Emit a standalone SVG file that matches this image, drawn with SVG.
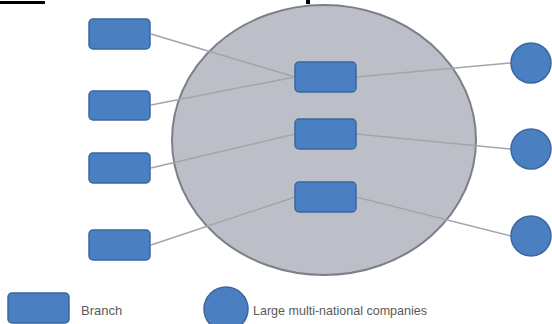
<svg xmlns="http://www.w3.org/2000/svg" width="552" height="324" viewBox="0 0 552 324">
<style>
.br{fill:#4a7fc1;stroke:#3b679e;stroke-width:1.5}
.co{fill:#4a7fc1;stroke:#3b679e;stroke-width:1.5}
.ln{stroke:#a3a5ad;stroke-width:1.5;fill:none}
.lbl{font-family:"Liberation Sans",Arial,sans-serif;font-size:13px;fill:#5a5a5a}
</style>
<rect width="552" height="324" fill="#ffffff"/>
<rect x="0" y="1" width="45" height="3" fill="#000"/>
<rect x="306" y="0" width="4" height="4" fill="#000"/>
<g id="market">
<ellipse cx="324" cy="140" rx="152" ry="135" fill="#bdbfc8" stroke="#7d7f88" stroke-width="2"/>
</g>
<g id="connectors">
<line class="ln" x1="151" y1="34" x2="295" y2="77"/>
<line class="ln" x1="151" y1="105" x2="295" y2="77"/>
<line class="ln" x1="151" y1="168" x2="295" y2="134"/>
<line class="ln" x1="151" y1="245" x2="295" y2="197"/>
<line class="ln" x1="356" y1="77" x2="511" y2="63"/>
<line class="ln" x1="356" y1="134" x2="511" y2="149"/>
<line class="ln" x1="356" y1="197" x2="511" y2="236"/>
</g>
<g id="left-branch-1"><rect class="br" x="89" y="19" width="61" height="30" rx="4"/></g>
<g id="left-branch-2"><rect class="br" x="89" y="91" width="61" height="29" rx="4"/></g>
<g id="left-branch-3"><rect class="br" x="89" y="153" width="61" height="30" rx="4"/></g>
<g id="left-branch-4"><rect class="br" x="89" y="230" width="61" height="30" rx="4"/></g>
<g id="center-branch-1"><rect class="br" x="295" y="62" width="61" height="30" rx="4"/></g>
<g id="center-branch-2"><rect class="br" x="295" y="119" width="61" height="30" rx="4"/></g>
<g id="center-branch-3"><rect class="br" x="295" y="182" width="61" height="30" rx="4"/></g>
<g id="company-1"><circle class="co" cx="531" cy="63" r="20"/></g>
<g id="company-2"><circle class="co" cx="531" cy="149" r="20"/></g>
<g id="company-3"><circle class="co" cx="531" cy="236" r="20"/></g>
<g id="legend-branch">
<rect class="br" x="8" y="293" width="61" height="30" rx="4"/>
<text class="lbl" x="81" y="315">Branch</text>
</g>
<g id="legend-company">
<circle class="co" cx="226" cy="309" r="22"/>
<text class="lbl" x="253" y="315" textLength="174" lengthAdjust="spacingAndGlyphs">Large multi-national companies</text>
</g>
</svg>
